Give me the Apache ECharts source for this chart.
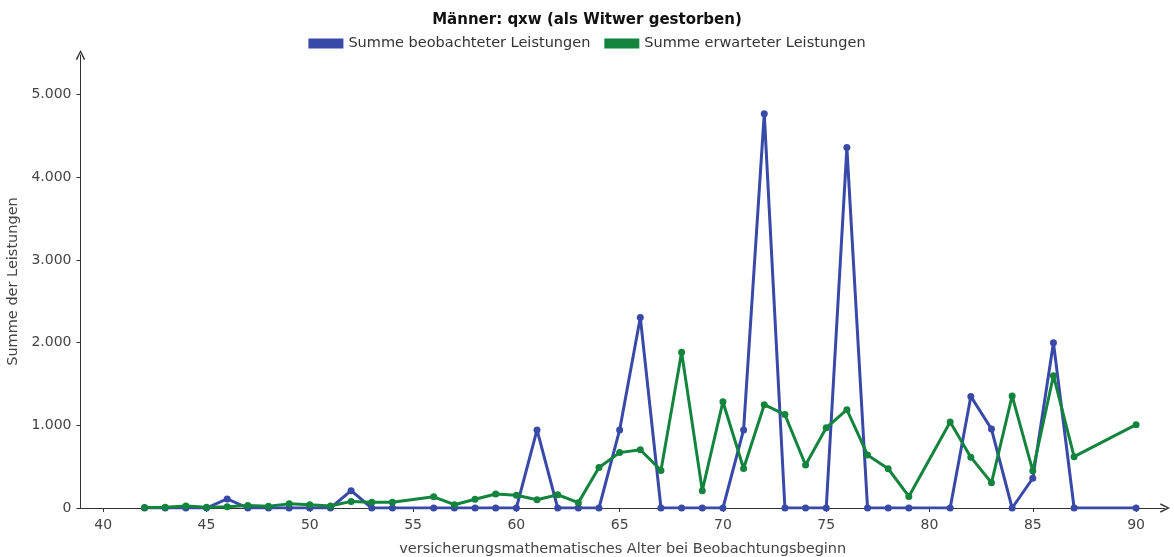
<!DOCTYPE html>
<html>
<head>
<meta charset="utf-8">
<script src="https://cdn.jsdelivr.net/npm/echarts@6/dist/echarts.min.js"></script>
<style>
  html, body { margin: 0; padding: 0; background: #fff; }
  #chart { width: 1174px; height: 557px; }
</style>
</head>
<body>
<div id="chart"></div>
<script>
// Alter bei Beobachtungsbeginn (55, 80, 88, 89 fehlen)
var ages = [42, 43, 44, 45, 46, 47, 48, 49, 50, 51, 52, 53, 54,
  56, 57, 58, 59, 60, 61, 62, 63, 64, 65, 66, 67, 68, 69, 70, 71, 72, 73, 74, 75, 76, 77, 78, 79,
  81, 82, 83, 84, 85, 86, 87,
  90];
var observed = [0, 0, 0, 0, 110, 0, 0, 0, 0, 0, 210, 0, 0,
  0, 0, 0, 0, 0, 945, 0, 0, 0, 945, 2305, 0, 0, 0, 0, 945, 4770, 0, 0, 0, 4360, 0, 0, 0,
  0, 1350, 955, 0, 360, 2000, 0,
  0];
var expected = [5, 10, 25, 10, 15, 30, 20, 50, 40, 25, 80, 70, 70,
  135, 40, 105, 170, 155, 100, 160, 65, 490, 670, 705, 455, 1885, 210, 1285, 478, 1250, 1130, 520, 970, 1190, 642, 475, 140,
  1040, 615, 305, 1356, 450, 1600, 621,
  1008];
var xTicks = [40, 45, 50, 55, 60, 65, 70, 75, 80, 85, 90];
var yTicks = [0, 1000, 2000, 3000, 4000, 5000];
var seriesNames = ["Summe beobachteter Leistungen", "Summe erwarteter Leistungen"];

var blue = "#3849a8", green = "#13843d";
var font = "DejaVu Sans";
// offener Pfeil (Chevron) am Achsenende
var chevron = "path://M0,10 L5,0 L10,10 L8.6,10.7 L5,3 L1.4,10.7 Z";

function pairs(vals) {
  var out = [];
  for (var i = 0; i < ages.length; i++) out.push([ages[i], vals[i]]);
  return out;
}
function fmt(v) {
  return String(v).replace(/\B(?=(\d{3})+(?!\d))/g, ".");
}

var chart = echarts.init(document.getElementById("chart"));
var option = {
  backgroundColor: "#fff",
  animation: false,
  title: {
    text: "Männer: qxw (als Witwer gestorben)",
    left: "center",
    top: 8,
    textStyle: { fontFamily: font, fontSize: 15, fontWeight: "bold", color: "#111" }
  },
  legend: {
    top: 31,
    left: "center",
    itemWidth: 35,
    itemHeight: 10,
    itemGap: 14,
    icon: "rect",
    data: seriesNames,
    textStyle: { fontFamily: font, fontSize: 14.5, color: "#333" }
  },
  grid: { left: 80.5, right: 9, top: 55, bottom: 49, containLabel: false, outerBoundsMode: "none" },
  xAxis: {
    type: "value",
    min: 38.9,
    max: 91.4,
    name: "versicherungsmathematisches Alter bei Beobachtungsbeginn",
    nameLocation: "middle",
    nameGap: 34,
    nameTextStyle: { fontFamily: font, fontSize: 14.5, color: "#444" },
    splitLine: { show: false },
    axisLine: {
      lineStyle: { color: "#333", width: 1 },
      symbol: ["none", chevron],
      symbolSize: [13, 10],
      symbolOffset: [0, 0]
    },
    axisTick: { show: true, length: 4, customValues: xTicks, lineStyle: { color: "#333" } },
    axisLabel: {
      customValues: xTicks,
      margin: 10,
      fontFamily: font,
      fontSize: 14,
      color: "#444"
    }
  },
  yAxis: {
    type: "value",
    min: 0,
    max: 5480,
    name: "Summe der Leistungen",
    nameLocation: "middle",
    nameGap: 49,
    nameTextStyle: { fontFamily: font, fontSize: 14.5, color: "#444" },
    splitLine: { show: false },
    axisLine: {
      show: true,
      lineStyle: { color: "#333", width: 1 },
      symbol: ["none", chevron],
      symbolSize: [13, 10],
      symbolOffset: [0, 0]
    },
    axisTick: { show: true, length: 4, customValues: yTicks, lineStyle: { color: "#333" } },
    axisLabel: {
      customValues: yTicks,
      margin: 9,
      fontFamily: font,
      fontSize: 14,
      color: "#444",
      formatter: fmt
    }
  },
  series: [{
    name: seriesNames[0],
    type: "line",
    data: pairs(observed),
    color: blue,
    symbol: "circle",
    symbolSize: 7,
    lineStyle: { width: 3, color: blue },
    itemStyle: { color: blue }
  }, {
    name: seriesNames[1],
    type: "line",
    data: pairs(expected),
    color: green,
    symbol: "circle",
    symbolSize: 7,
    lineStyle: { width: 3, color: green },
    itemStyle: { color: green }
  }]
};
chart.setOption(option);
</script>
</body>
</html>
